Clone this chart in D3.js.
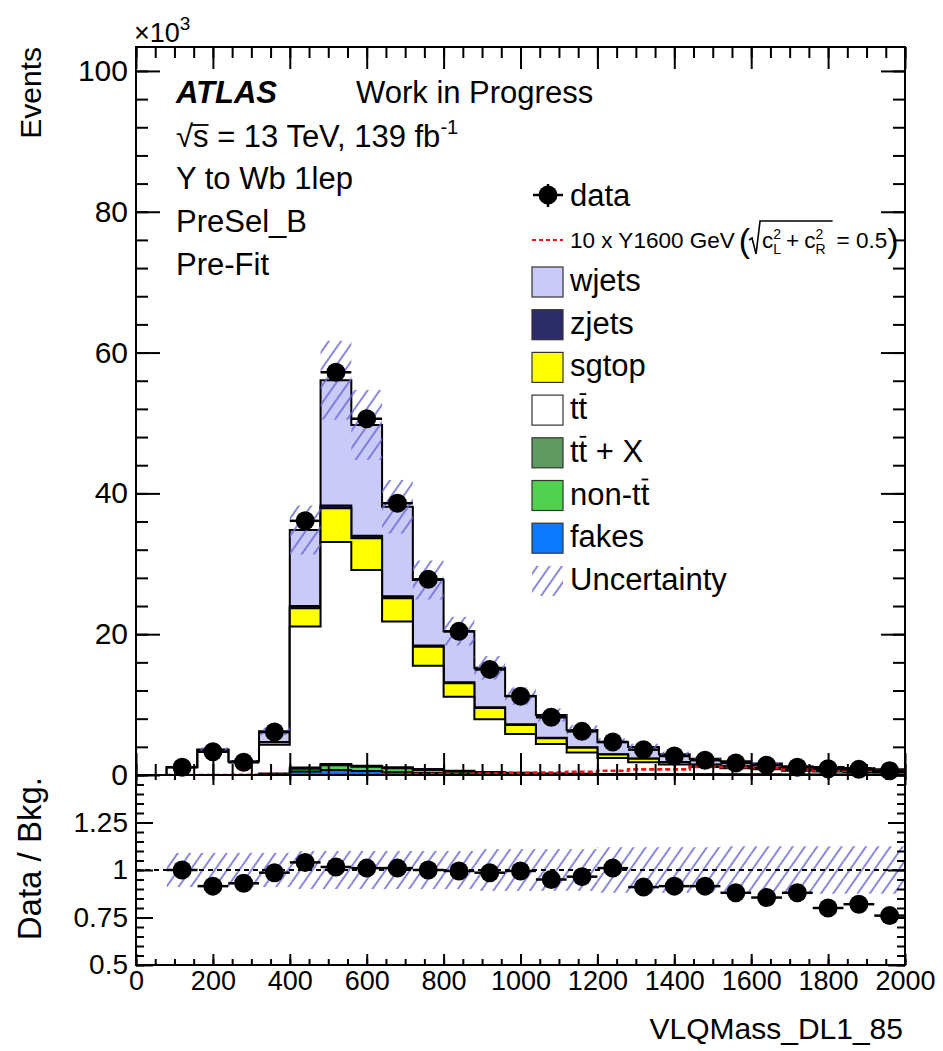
<!DOCTYPE html>
<html><head><meta charset="utf-8">
<script src="https://cdn.jsdelivr.net/npm/d3@7/dist/d3.min.js"></script>
<style>
body{margin:0;background:#fff}
text{font-family:"Liberation Sans",Arial,Helvetica,sans-serif;fill:#000;white-space:pre}
</style>
</head><body>
<svg id="c" width="943" height="1051"></svg>
<script>
// ---------------- DATA (events in units of 10^3) ----------------
const binLow = [80,160,240,320,400,480,560,640,720,800,880,960,1040,1120,1200,1280,1360,1440,1520,1600,1680,1760,1840,1920];
const binWidth = 80;
const fakes = [0,0,0,0.05,0.5,0.7,0.57,0.4,0.3,0.2,0.12,0.08,0.06,0.05,0.04,0.03,0.03,0.02,0.02,0.02,0.01,0.01,0.01,0.01];
const nonTT = [0,0,0,0.1,0.4,0.7,0.6,0.55,0.4,0.3,0.2,0.15,0.1,0.08,0.07,0.06,0.05,0.05,0.04,0.04,0.03,0.03,0.03,0.02];
const ttX   = [0,0,0,0.05,0.15,0.18,0.15,0.15,0.15,0.12,0.1,0.08,0.06,0.05,0.04,0.03,0.02,0.02,0.02,0.02,0.02,0.02,0.02,0.02];
const ttbar = [1.1,3.55,1.9,4.1,20.05,31.5,27.8,20.7,14.65,10.5,7.5,5.5,4.2,3.0,2.25,1.7,1.4,1.06,0.87,0.72,0.53,0.44,0.36,0.3];
const sgtop = [0,0.05,0.03,0.35,2.6,4.8,4.5,3.3,2.7,1.9,1.6,1.3,0.8,0.7,0.5,0.5,0.3,0.3,0.25,0.2,0.18,0.15,0.13,0.1];
const zjets = [0,0,0,0.05,0.3,0.4,0.35,0.3,0.2,0.15,0.12,0.1,0.08,0.06,0.05,0.04,0.04,0.03,0.03,0.02,0.02,0.02,0.02,0.02];
const wjets = [0,0,0,1.5,10.8,17.8,15.75,12.7,9.3,7.25,5.58,4.0,3.22,2.44,1.7,1.61,1.11,0.82,0.71,0.62,0.45,0.46,0.42,0.34];
const dataEv = [1.1,3.3,1.8,6.1,36.1,57.2,50.6,38.6,27.8,20.4,15.0,11.2,8.2,6.2,4.7,3.6,2.7,2.1,1.7,1.4,1.1,0.9,0.8,0.6];
const ratio  = [1.00,0.915,0.93,0.986,1.04,1.016,1.01,1.01,1.0,0.995,0.986,0.995,0.95,0.965,1.01,0.91,0.915,0.915,0.88,0.855,0.88,0.80,0.82,0.76];
const relUnc = [0.09,0.09,0.09,0.09,0.10,0.10,0.10,0.10,0.10,0.10,0.11,0.11,0.11,0.11,0.12,0.12,0.12,0.12,0.125,0.125,0.125,0.125,0.125,0.125];
const signal = [0.01,0.01,0.02,0.03,0.08,0.1,0.1,0.12,0.13,0.15,0.2,0.3,0.35,0.45,0.6,0.8,0.8,1.15,1.1,1.0,0.8,0.65,0.62,0.6];

const xTicks = [0,200,400,600,800,1000,1200,1400,1600,1800,2000];
const yTicks = [0,20,40,60,80,100];
const rTicks = [0.5,0.75,1,1.25];
const rTickLabels = ["0.5","0.75","1","1.25"];

const samples = [
  {key:"fakes", label:"fakes", color:"#0a78ff", vals:fakes},
  {key:"nonTT", label:"non-tt", color:"#50d250", vals:nonTT, bar:true},
  {key:"ttX",   label:"tt + X", color:"#5e9a62", vals:ttX, bar:true},
  {key:"ttbar", label:"tt", color:"#ffffff", vals:ttbar, bar:true},
  {key:"sgtop", label:"sgtop", color:"#ffff00", vals:sgtop},
  {key:"zjets", label:"zjets", color:"#2c2c68", vals:zjets},
  {key:"wjets", label:"wjets", color:"#cacaf8", vals:wjets}
];

// ---------------- LAYOUT ----------------
const L = 136, R = 905, T = 47, MB = 775, RB = 965;
const svg = d3.select("#c");
const x = d3.scaleLinear().domain([0,2000]).range([L,R]);
const y = d3.scaleLinear().domain([0,103.4]).range([MB,T]);
const yr = d3.scaleLinear().domain([0.5,1.5]).range([RB,MB]);

const defs = svg.append("defs");
const pat = defs.append("pattern").attr("id","hatch").attr("patternUnits","userSpaceOnUse")
  .attr("width",10).attr("height",10).attr("patternTransform","rotate(35)");
pat.append("line").attr("x1",5).attr("y1",-1).attr("x2",5).attr("y2",11)
  .attr("stroke","#6a6ad8").attr("stroke-width",1.6);
defs.append("clipPath").attr("id","cm").append("rect").attr("x",L).attr("y",T).attr("width",R-L).attr("height",MB-T);
defs.append("clipPath").attr("id","cr").append("rect").attr("x",L).attr("y",MB).attr("width",R-L).attr("height",RB-MB);

// stack
const rows = binLow.map((lo,i)=>{const r={lo}; samples.forEach(s=>r[s.key]=s.vals[i]); return r;});
const stacked = d3.stack().keys(samples.map(s=>s.key))(rows);
const total = rows.map(r=>d3.sum(samples,s=>r[s.key]));

const stepPts = vals => binLow.flatMap((lo,i)=>[[lo,vals[i]],[lo+binWidth,vals[i]]]);
const area = d3.area().x(d=>x(d[0])).y0(y(0)).y1(d=>y(d[1]));
const gm = svg.append("g").attr("clip-path","url(#cm)");
for (let k = stacked.length-1; k>=0; k--) {
  const tops = stacked[k].map(d=>d[1]);
  gm.append("path").attr("d", area(stepPts(tops)))
    .attr("fill", samples[k].color).attr("stroke","#000").attr("stroke-width",2).attr("stroke-linejoin","miter");
}
// uncertainty band (main)
gm.selectAll("rect.unc").data(binLow.map((lo,i)=>({lo,t:total[i],u:relUnc[i]}))).join("rect")
  .attr("x",d=>x(d.lo)).attr("width",x(binWidth)-x(0))
  .attr("y",d=>y(d.t*(1+d.u))).attr("height",d=>y(d.t*(1-d.u))-y(d.t*(1+d.u)))
  .attr("fill","url(#hatch)");
// signal
const line = d3.line().x(d=>x(d[0])).y(d=>y(d[1]));
gm.append("path").attr("d", line(stepPts(signal))).attr("fill","none")
  .attr("stroke","#ee1111").attr("stroke-width",2.6).attr("stroke-dasharray","5,3");
// data
const gd = svg.append("g");
binLow.forEach((lo,i)=>{
  gd.append("line").attr("x1",x(lo)).attr("x2",x(lo+binWidth)).attr("y1",y(dataEv[i])).attr("y2",y(dataEv[i]))
    .attr("stroke","#000").attr("stroke-width",2.5);
});
gd.selectAll("circle").data(binLow).join("circle")
  .attr("cx",(d)=>x(d+binWidth/2)).attr("cy",(d,i)=>y(dataEv[i])).attr("r",9.5).attr("fill","#000");

// ratio panel
const gr = svg.append("g").attr("clip-path","url(#cr)");
gr.selectAll("rect.unc").data(binLow.map((lo,i)=>({lo,u:relUnc[i]}))).join("rect")
  .attr("x",d=>x(d.lo)).attr("width",x(binWidth)-x(0))
  .attr("y",d=>yr(1+d.u)).attr("height",d=>yr(1-d.u)-yr(1+d.u)).attr("fill","url(#hatch)");
gr.append("line").attr("x1",L).attr("x2",R).attr("y1",yr(1)).attr("y2",yr(1))
  .attr("stroke","#000").attr("stroke-width",2).attr("stroke-dasharray","5,4");
binLow.forEach((lo,i)=>{
  gr.append("line").attr("x1",x(lo)).attr("x2",x(lo+binWidth)).attr("y1",yr(ratio[i])).attr("y2",yr(ratio[i]))
    .attr("stroke","#000").attr("stroke-width",2.5);
});
gr.selectAll("circle").data(binLow).join("circle")
  .attr("cx",d=>x(d+binWidth/2)).attr("cy",(d,i)=>yr(ratio[i])).attr("r",9.5).attr("fill","#000");

// ---------------- AXES ----------------
function ax(gen, tr, vals, size, fmt, fs, pad){
  const a = gen.tickValues(vals).tickSize(size).tickPadding(pad||8);
  a.tickFormat(fmt ? fmt : ()=>"");
  const g = svg.append("g").attr("transform",tr).call(a);
  g.select(".domain").remove();
  g.selectAll("line").attr("stroke","#000").attr("stroke-width",2);
  g.selectAll("text").attr("font-size",fs||28).attr("font-family","'Liberation Sans',Arial,sans-serif").attr("fill","#000");
  return g;
}
const yMinor = d3.range(0,104,4);
const xMinor = d3.range(0,2001,50);
const rMinor = d3.range(0.5,1.501,0.05);
// main
ax(d3.axisLeft(y), `translate(${L},0)`, yTicks, -24, d=>String(d), 30, 8);
ax(d3.axisLeft(y), `translate(${L},0)`, yMinor, -12);
ax(d3.axisRight(y), `translate(${R},0)`, yTicks, -24);
ax(d3.axisRight(y), `translate(${R},0)`, yMinor, -12);
ax(d3.axisBottom(x), `translate(0,${MB})`, xTicks, -22);
ax(d3.axisBottom(x), `translate(0,${MB})`, xMinor, -11);
ax(d3.axisTop(x), `translate(0,${T})`, xTicks, -22);
ax(d3.axisTop(x), `translate(0,${T})`, xMinor, -11);
// ratio
ax(d3.axisLeft(yr), `translate(${L},0)`, rTicks, -17, (d,i)=>rTickLabels[i], 28, 8);
ax(d3.axisLeft(yr), `translate(${L},0)`, rMinor, -8);
ax(d3.axisRight(yr), `translate(${R},0)`, rTicks, -17);
ax(d3.axisRight(yr), `translate(${R},0)`, rMinor, -8);
ax(d3.axisBottom(x), `translate(0,${RB})`, xTicks, -11, d=>String(d), 27, 6);
ax(d3.axisBottom(x), `translate(0,${RB})`, xMinor, -6);
ax(d3.axisTop(x), `translate(0,${MB})`, xTicks, -10);
ax(d3.axisTop(x), `translate(0,${MB})`, xMinor, -5);

// frames
svg.append("rect").attr("x",L).attr("y",T).attr("width",R-L).attr("height",MB-T).attr("fill","none").attr("stroke","#000").attr("stroke-width",2);
svg.append("rect").attr("x",L).attr("y",MB).attr("width",R-L).attr("height",RB-MB).attr("fill","none").attr("stroke","#000").attr("stroke-width",2);

// axis titles
svg.append("text").attr("transform","translate(41,47) rotate(-90)").attr("text-anchor","end").attr("font-size",30).text("Events");
svg.append("text").attr("transform","translate(41,777) rotate(-90)").attr("text-anchor","end").attr("font-size",33).text("Data / Bkg.");
svg.append("text").attr("x",903).attr("y",1039).attr("text-anchor","end").attr("font-size",30).text("VLQMass_DL1_85");
const xt = svg.append("text").attr("x",134).attr("y",42).attr("font-size",27);
xt.append("tspan").text("\u00d710");
xt.append("tspan").attr("dy",-12).attr("font-size",19).text("3");

// ---------------- LABELS ----------------
const FS = 31;
svg.append("text").attr("x",176).attr("y",103).attr("font-size",FS).attr("font-weight","bold").attr("font-style","italic").text("ATLAS");
svg.append("text").attr("x",356).attr("y",103).attr("font-size",FS).text("Work in Progress");
{
  const t = svg.append("text").attr("x",176).attr("y",147).attr("font-size",FS);
  t.append("tspan").text("\u221As");
  t.append("tspan").text(" = 13 TeV, 139 fb");
  t.append("tspan").attr("dy",-13).attr("font-size",20).text("-1");
  const n = t.node();
  const e = n.getExtentOfChar(1);
  svg.append("line").attr("x1",e.x-1).attr("x2",e.x+e.width).attr("y1",e.y+6).attr("y2",e.y+6).attr("stroke","#000").attr("stroke-width",1.8);
}
svg.append("text").attr("x",176).attr("y",189).attr("font-size",FS).text("Y to Wb 1lep");
svg.append("text").attr("x",176).attr("y",232).attr("font-size",FS).text("PreSel_B");
svg.append("text").attr("x",176).attr("y",275).attr("font-size",FS).text("Pre-Fit");

// ---------------- LEGEND ----------------
const lg = svg.append("g");
lg.append("line").attr("x1",533).attr("x2",563).attr("y1",195).attr("y2",195).attr("stroke","#000").attr("stroke-width",2.5);
lg.append("line").attr("x1",548).attr("x2",548).attr("y1",184).attr("y2",207).attr("stroke","#000").attr("stroke-width",2.5);
lg.append("circle").attr("cx",548).attr("cy",195).attr("r",9.5).attr("fill","#000");
lg.append("text").attr("x",570).attr("y",206).attr("font-size",FS).text("data");
// signal entry
lg.append("line").attr("x1",532).attr("x2",563).attr("y1",240).attr("y2",240).attr("stroke","#ee1111").attr("stroke-width",2.2).attr("stroke-dasharray","4,3");
{
  const base = 248, fs = 22.5;
  let cx = 570;
  const put = (str, size, dy) => lg.append("text").attr("x",cx).attr("y",base+(dy||0)).attr("font-size",size).text(str);
  let t = put("10 x Y1600 GeV", fs); cx += t.node().getComputedTextLength() + 4;
  t = put("(", 34, 4); cx += t.node().getComputedTextLength() - 1;
  const sx = cx;
  cx += 13;
  t = put("c", fs); const cw = t.node().getComputedTextLength();
  const s1 = lg.append("text").attr("x",cx+cw).attr("y",base-9).attr("font-size",14).text("2");
  const l1 = lg.append("text").attr("x",cx+cw).attr("y",base+6).attr("font-size",14).text("L");
  cx += cw + Math.max(s1.node().getComputedTextLength(), l1.node().getComputedTextLength()) + 5;
  t = put("+", fs); cx += t.node().getComputedTextLength() + 5;
  t = put("c", fs); cx += t.node().getComputedTextLength();
  const s2 = lg.append("text").attr("x",cx).attr("y",base-9).attr("font-size",14).text("2");
  const l2 = lg.append("text").attr("x",cx).attr("y",base+6).attr("font-size",14).text("R");
  cx += Math.max(s2.node().getComputedTextLength(), l2.node().getComputedTextLength()) + 7;
  const ex = cx;
  lg.append("path").attr("d",`M${sx},${base-8} L${sx+3},${base-10} L${sx+7},${base+6} L${sx+11},${base-27} L${ex},${base-27}`)
    .attr("fill","none").attr("stroke","#000").attr("stroke-width",1.6);
  cx += 4;
  t = put("= 0.5", fs); cx += t.node().getComputedTextLength();
  put(")", 34, 4);
}
const boxTop0 = 267, step = 42.7;
const legItems = [...samples].reverse();
legItems.forEach((s,i)=>{
  const yt = boxTop0 + i*step;
  lg.append("rect").attr("x",532).attr("y",yt).attr("width",31).attr("height",30).attr("fill",s.color).attr("stroke","#333").attr("stroke-width",1.2);
  const t = lg.append("text").attr("x",570).attr("y",yt+24).attr("font-size",FS).text(s.label);
  if (s.bar) {
    const n = t.node(); const idx = s.label.lastIndexOf("tt")+1;
    const e = n.getExtentOfChar(idx);
    lg.append("line").attr("x1",e.x+1).attr("x2",e.x+e.width-1).attr("y1",e.y+3).attr("y2",e.y+3).attr("stroke","#000").attr("stroke-width",1.8);
  }
});
{
  const yt = boxTop0 + 7*step;
  lg.append("rect").attr("x",532).attr("y",yt).attr("width",31).attr("height",30).attr("fill","url(#hatch)");
  lg.append("text").attr("x",570).attr("y",yt+24).attr("font-size",FS).text("Uncertainty");
}
</script>
</body></html>
